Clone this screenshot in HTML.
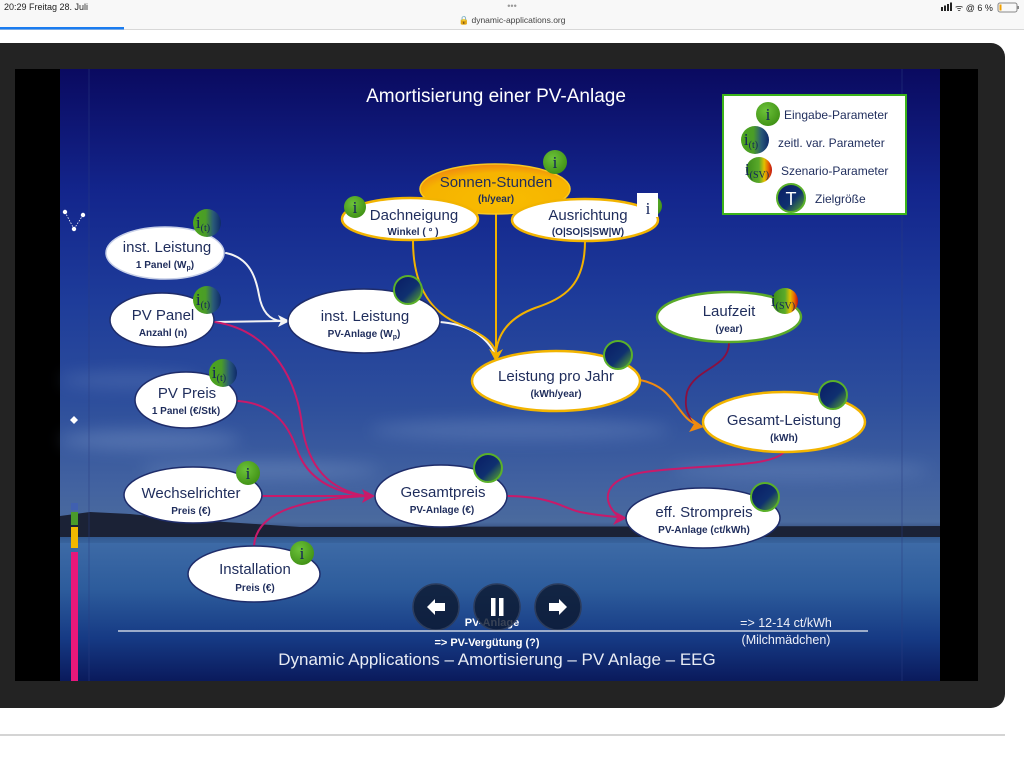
<!DOCTYPE html>
<html><head><meta charset="utf-8">
<style>
html,body{margin:0;padding:0;background:#fff;}
svg{display:block;}
text{font-family:"Liberation Sans",sans-serif;}
.m{font-size:15px;fill:#1f2d5c;text-anchor:middle;}
.s{font-size:10px;font-weight:bold;fill:#1f2d5c;text-anchor:middle;}
.bi{font-family:"Liberation Serif",serif;font-size:17px;fill:#13235a;text-anchor:middle;}
.lg{font-size:12px;fill:#1f2d5c;}
</style></head>
<body>
<svg width="1024" height="767" viewBox="0 0 1024 767" xmlns="http://www.w3.org/2000/svg">
<defs>
  <linearGradient id="sky" x1="0" y1="69" x2="0" y2="681" gradientUnits="userSpaceOnUse">
    <stop offset="0" stop-color="#0a0a60"/>
    <stop offset="0.2" stop-color="#13258c"/>
    <stop offset="0.38" stop-color="#1e3c9a"/>
    <stop offset="0.55" stop-color="#2e4f9c"/>
    <stop offset="0.68" stop-color="#4262a0"/>
    <stop offset="0.74" stop-color="#4a6a9e"/>
    <stop offset="0.76" stop-color="#2a4070"/>
    <stop offset="0.775" stop-color="#3d6aa6"/>
    <stop offset="0.85" stop-color="#2d5c9c"/>
    <stop offset="0.93" stop-color="#163a84"/>
    <stop offset="1" stop-color="#0a1a5c"/>
  </linearGradient>
  <radialGradient id="gI" cx="40%" cy="35%" r="70%">
    <stop offset="0" stop-color="#6cc23a"/>
    <stop offset="1" stop-color="#3f9014"/>
  </radialGradient>
  <linearGradient id="gT" x1="0" y1="0" x2="1" y2="0">
    <stop offset="0" stop-color="#4ca51c"/>
    <stop offset="0.45" stop-color="#4a9c28"/>
    <stop offset="0.72" stop-color="#2a5a78"/>
    <stop offset="1" stop-color="#0e2a6a"/>
  </linearGradient>
  <linearGradient id="gD" x1="0.1" y1="0.1" x2="0.95" y2="0.95">
    <stop offset="0" stop-color="#0a1f66"/>
    <stop offset="0.55" stop-color="#0f3070"/>
    <stop offset="1" stop-color="#5aaa2a"/>
  </linearGradient>
  <linearGradient id="gSV" x1="0" y1="0" x2="1" y2="0">
    <stop offset="0" stop-color="#3a8a1a"/>
    <stop offset="0.5" stop-color="#5aaa2a"/>
    <stop offset="0.7" stop-color="#e0c000"/>
    <stop offset="0.85" stop-color="#e86a00"/>
    <stop offset="1" stop-color="#c01010"/>
  </linearGradient>
  <radialGradient id="gSun" cx="55%" cy="70%" r="75%">
    <stop offset="0" stop-color="#f8bc00"/>
    <stop offset="0.7" stop-color="#f6b300"/>
    <stop offset="0.92" stop-color="#f08a10"/>
    <stop offset="1" stop-color="#e0601a"/>
  </radialGradient>
  <filter id="blur" x="-50%" y="-50%" width="200%" height="200%"><feGaussianBlur stdDeviation="8"/></filter>
</defs>

<!-- page -->
<rect width="1024" height="767" fill="#ffffff"/>
<rect x="0" y="0" width="1024" height="29" fill="#f8f8f8"/>
<text x="4" y="10" font-size="9" fill="#222">20:29  Freitag 28. Juli</text>
<text x="512" y="9" font-size="9" fill="#999" text-anchor="middle">•••</text>
<text x="512" y="23" font-size="8.5" fill="#444" text-anchor="middle">🔒 dynamic-applications.org</text>
<g fill="#222">
  <rect x="941" y="7" width="2" height="4"/><rect x="944" y="5.5" width="2" height="5.5"/><rect x="947" y="4" width="2" height="7"/><rect x="950" y="2.5" width="2" height="8.5"/>
</g>
<text x="955" y="11" font-size="9" fill="#222">ᯤ @ 6 %</text>
<rect x="998" y="3" width="19" height="9" rx="2" fill="none" stroke="#888" stroke-width="1"/>
<rect x="999.5" y="4.5" width="2" height="6" fill="#f0a000"/>
<rect x="1017.5" y="6" width="1.5" height="3" fill="#888"/>
<rect x="0" y="29" width="1024" height="1" fill="#d8d8d8"/>
<rect x="0" y="27" width="124" height="2.5" fill="#1a7cf0"/>

<!-- frame -->
<rect x="-20" y="43" width="1025" height="665" rx="14" fill="#232323"/>
<rect x="0" y="734" width="1005" height="2" fill="#d4d4d4"/>

<!-- black area -->
<rect x="15" y="69" width="963" height="612" fill="#000"/>
<!-- slide -->
<rect x="60" y="69" width="880" height="612" fill="url(#sky)"/>
<g filter="url(#blur)" opacity="0.35">
  <ellipse cx="150" cy="440" rx="90" ry="10" fill="#8aa6d0"/>
  <ellipse cx="260" cy="470" rx="120" ry="8" fill="#8aa6d0"/>
  <ellipse cx="520" cy="430" rx="150" ry="10" fill="#7a98c8"/>
  <ellipse cx="800" cy="470" rx="130" ry="9" fill="#7a98c8"/>
  <ellipse cx="130" cy="380" rx="70" ry="8" fill="#6a88c0"/>
</g>
<!-- horizon -->
<polygon points="60,516 90,512 130,514 180,519 240,523 300,527 940,526 940,537 60,537" fill="#1b2236"/>
<rect x="60" y="537" width="880" height="6" fill="#35609a" opacity="0.6"/>
<line x1="89" y1="69" x2="89" y2="681" stroke="#2a3c80" stroke-width="1" opacity="0.5"/>
<line x1="902" y1="69" x2="902" y2="681" stroke="#2a3c80" stroke-width="1" opacity="0.5"/>

<!-- color bar -->
<rect x="71" y="503" width="7" height="7" fill="#4060b0"/>
<rect x="71" y="512" width="7" height="13" fill="#4a9a2a"/>
<rect x="71" y="527" width="7" height="21" fill="#f2b800"/>
<rect x="71" y="552" width="7" height="129" fill="#e8187a"/>

<!-- decorations -->
<g fill="#fff">
  <circle cx="65" cy="212" r="2.2"/><circle cx="83" cy="215" r="2.2"/><circle cx="74" cy="229" r="2.2"/>
  <polygon points="74,416 78,420 74,424 70,420"/>
</g>
<g stroke="#fff" stroke-width="0.8" stroke-dasharray="1.5,1.5">
  <line x1="65" y1="212" x2="74" y2="229"/><line x1="83" y1="215" x2="74" y2="229"/>
</g>

<!-- title -->
<text x="496" y="102" font-size="19" fill="#ffffff" text-anchor="middle">Amortisierung einer PV-Anlage</text>

<!-- legend -->
<rect x="723" y="95" width="183" height="119" fill="#fff" stroke="#3cb31a" stroke-width="2"/>
<circle cx="768" cy="114" r="12" fill="url(#gI)"/>
<text class="bi" x="768" y="120">i</text>
<text class="lg" x="784" y="119">Eingabe-Parameter</text>
<circle cx="755" cy="140" r="14" fill="url(#gT)"/>
<text class="bi" x="751" y="145">i<tspan font-size="10" dy="3">(t)</tspan></text>
<text class="lg" x="778" y="147">zeitl. var. Parameter</text>
<circle cx="759" cy="170" r="13" fill="url(#gSV)"/>
<text class="bi" x="757" y="175">i<tspan font-size="10" dy="3">(SV)</tspan></text>
<text class="lg" x="781" y="175">Szenario-Parameter</text>
<circle cx="791" cy="198" r="14" fill="url(#gD)" stroke="#5ab02a" stroke-width="2"/>
<text x="791" y="205" font-family="Liberation Serif,serif" font-size="18" fill="#fff" text-anchor="middle">T</text>
<text class="lg" x="815" y="203">Zielgröße</text>

<!-- connectors -->
<g fill="none" stroke-linecap="round">
  <!-- white -->
  <path d="M226,253 C250,258 256,278 259,295 C262,312 270,320 281,321" stroke="#f4f4f4" stroke-width="2"/>
  <path d="M215,322 L281,321" stroke="#f4f4f4" stroke-width="2"/>
  <path d="M440,322 C465,324 484,334 494,352" stroke="#f4f4f4" stroke-width="2"/>
  <!-- yellow -->
  <path d="M413,241 C413,285 430,310 455,322 C480,333 492,340 496,352" stroke="#f2b200" stroke-width="2"/>
  <path d="M496,214 L496,352" stroke="#f2b200" stroke-width="2"/>
  <path d="M585,241 C585,285 565,298 535,308 C508,318 498,335 496,352" stroke="#f2b200" stroke-width="2"/>
  <!-- orange -->
  <path d="M640,380 C665,385 672,400 680,410 C686,418 690,422 696,424" stroke="#f08a10" stroke-width="2"/>
  <!-- maroon -->
  <path d="M729,343 C729,368 695,368 687,392 C683,410 690,420 697,424" stroke="#8a1040" stroke-width="1.8"/>
  <!-- magenta -->
  <path d="M215,322 C268,330 296,375 302,425 C308,468 330,490 366,496" stroke="#c81a6a" stroke-width="2"/>
  <path d="M238,401 C278,404 290,430 298,452 C308,478 332,492 366,496" stroke="#c81a6a" stroke-width="2"/>
  <path d="M262,496 L366,496" stroke="#c81a6a" stroke-width="2"/>
  <path d="M254,546 C256,515 292,500 366,496" stroke="#c81a6a" stroke-width="2"/>
  <path d="M508,496 C555,497 562,508 580,512 C595,515 605,516 618,517" stroke="#c81a6a" stroke-width="2"/>
  <path d="M784,452 C770,468 705,464 645,472 C604,478 600,500 618,516" stroke="#c81a6a" stroke-width="2"/>
</g>
<!-- arrowheads -->
<polygon points="290,321 278,315 281,321 278,327" fill="#f4f4f4"/>
<polygon points="496,362 489,349 496,353 503,349" fill="#f2b200"/>
<polygon points="704,427 690,417 694,424 689,432" fill="#f08a10"/>
<polygon points="375,496 362,489 365,496 362,503" fill="#c81a6a"/>
<polygon points="627,518 614,511 617,518 613,525" fill="#c81a6a"/>

<!-- nodes -->
<!-- Sonnen-Stunden -->
<ellipse cx="495" cy="189" rx="75" ry="25" fill="url(#gSun)" stroke="#f8c820" stroke-width="1.5"/>
<text class="m" x="496" y="187">Sonnen-Stunden</text>
<text class="s" x="496" y="202">(h/year)</text>
<circle cx="555" cy="162" r="12" fill="url(#gI)"/>
<text class="bi" x="555" y="168">i</text>

<!-- Dachneigung -->
<ellipse cx="410" cy="219" rx="68" ry="21" fill="#fff" stroke="#f2b400" stroke-width="2.5"/>
<text class="m" x="414" y="220">Dachneigung</text>
<text class="s" x="413" y="235">Winkel ( ° )</text>
<circle cx="355" cy="207" r="11" fill="url(#gI)"/>
<text class="bi" x="355" y="213">i</text>

<!-- Ausrichtung -->
<ellipse cx="585" cy="220" rx="73" ry="21" fill="#fff" stroke="#f2b400" stroke-width="2.5"/>
<text class="m" x="588" y="220">Ausrichtung</text>
<text class="s" x="588" y="235">(O|SO|S|SW|W)</text>
<circle cx="652" cy="206" r="10" fill="url(#gI)"/>
<rect x="637" y="193" width="21" height="24" fill="#fff"/>
<text class="bi" x="648" y="214">i</text>

<!-- inst. Leistung 1 Panel -->
<ellipse cx="165" cy="253" rx="59" ry="26" fill="#fff" stroke="#c8d0e8" stroke-width="1.5"/>
<text class="m" x="167" y="252">inst. Leistung</text>
<text class="s" x="165" y="268">1 Panel (W<tspan font-size="7" dy="2">p</tspan><tspan dy="-2">)</tspan></text>
<circle cx="207" cy="223" r="14" fill="url(#gT)"/>
<text class="bi" x="203" y="228">i<tspan font-size="10" dy="3">(t)</tspan></text>

<!-- PV Panel -->
<ellipse cx="162" cy="320" rx="52" ry="27" fill="#fff" stroke="#1e2c6a" stroke-width="1.5"/>
<text class="m" x="163" y="320">PV Panel</text>
<text class="s" x="163" y="336">Anzahl (n)</text>
<circle cx="207" cy="300" r="14" fill="url(#gT)"/>
<text class="bi" x="203" y="305">i<tspan font-size="10" dy="3">(t)</tspan></text>

<!-- inst. Leistung PV-Anlage -->
<ellipse cx="364" cy="321" rx="76" ry="32" fill="#fff" stroke="#1e2c6a" stroke-width="1.5"/>
<text class="m" x="365" y="321">inst. Leistung</text>
<text class="s" x="364" y="337">PV-Anlage (W<tspan font-size="7" dy="2">p</tspan><tspan dy="-2">)</tspan></text>
<circle cx="408" cy="290" r="14" fill="url(#gD)" stroke="#5ab02a" stroke-width="2"/>

<!-- PV Preis -->
<ellipse cx="186" cy="400" rx="51" ry="28" fill="#fff" stroke="#1e2c6a" stroke-width="1.5"/>
<text class="m" x="187" y="398">PV Preis</text>
<text class="s" x="186" y="414">1 Panel (€/Stk)</text>
<circle cx="223" cy="373" r="14" fill="url(#gT)"/>
<text class="bi" x="219" y="378">i<tspan font-size="10" dy="3">(t)</tspan></text>

<!-- Leistung pro Jahr -->
<ellipse cx="556" cy="381" rx="84" ry="30" fill="#fff" stroke="#f2b400" stroke-width="2.5"/>
<text class="m" x="556" y="381">Leistung pro Jahr</text>
<text class="s" x="556" y="397">(kWh/year)</text>
<circle cx="618" cy="355" r="14" fill="url(#gD)" stroke="#5ab02a" stroke-width="2"/>

<!-- Laufzeit -->
<ellipse cx="729" cy="317" rx="72" ry="25" fill="#fff" stroke="#5aaa2a" stroke-width="2.5"/>
<text class="m" x="729" y="316">Laufzeit</text>
<text class="s" x="729" y="332">(year)</text>
<circle cx="785" cy="301" r="13" fill="url(#gSV)"/>
<text class="bi" x="783" y="306">i<tspan font-size="10" dy="3">(SV)</tspan></text>

<!-- Gesamt-Leistung -->
<ellipse cx="784" cy="422" rx="81" ry="30" fill="#fff" stroke="#f2b400" stroke-width="2.5"/>
<text class="m" x="784" y="425">Gesamt-Leistung</text>
<text class="s" x="784" y="441">(kWh)</text>
<circle cx="833" cy="395" r="14" fill="url(#gD)" stroke="#5ab02a" stroke-width="2"/>

<!-- Wechselrichter -->
<ellipse cx="193" cy="495" rx="69" ry="28" fill="#fff" stroke="#1e2c6a" stroke-width="1.5"/>
<text class="m" x="191" y="498">Wechselrichter</text>
<text class="s" x="191" y="514">Preis (€)</text>
<circle cx="248" cy="473" r="12" fill="url(#gI)"/>
<text class="bi" x="248" y="479">i</text>

<!-- Gesamtpreis -->
<ellipse cx="441" cy="496" rx="66" ry="31" fill="#fff" stroke="#1e2c6a" stroke-width="1.5"/>
<text class="m" x="443" y="497">Gesamtpreis</text>
<text class="s" x="442" y="513">PV-Anlage (€)</text>
<circle cx="488" cy="468" r="14" fill="url(#gD)" stroke="#5ab02a" stroke-width="2"/>

<!-- Installation -->
<ellipse cx="254" cy="574" rx="66" ry="28" fill="#fff" stroke="#1e2c6a" stroke-width="1.5"/>
<text class="m" x="255" y="574">Installation</text>
<text class="s" x="255" y="591">Preis (€)</text>
<circle cx="302" cy="553" r="12" fill="url(#gI)"/>
<text class="bi" x="302" y="559">i</text>

<!-- eff. Strompreis -->
<ellipse cx="703" cy="518" rx="77" ry="30" fill="#fff" stroke="#1e2c6a" stroke-width="1.5"/>
<text class="m" x="704" y="517">eff. Strompreis</text>
<text class="s" x="704" y="533">PV-Anlage (ct/kWh)</text>
<circle cx="765" cy="497" r="14" fill="url(#gD)" stroke="#5ab02a" stroke-width="2"/>

<!-- bottom -->
<text x="492" y="626" font-size="11" font-weight="bold" fill="#fff" text-anchor="middle">PV-Anlage</text>
<g fill="#0c1830" fill-opacity="0.82" stroke="#2c3c5c" stroke-width="1.5">
  <circle cx="436" cy="607" r="23"/>
  <circle cx="497" cy="607" r="23"/>
  <circle cx="558" cy="607" r="23"/>
</g>
<polygon points="427,607 435,599 435,603 445,603 445,611 435,611 435,615" fill="#fff"/>
<rect x="491" y="598" width="4.5" height="18" fill="#fff"/>
<rect x="499" y="598" width="4.5" height="18" fill="#fff"/>
<polygon points="567,607 559,599 559,603 549,603 549,611 559,611 559,615" fill="#fff"/>
<line x1="118" y1="631" x2="868" y2="631" stroke="#c8d0e0" stroke-width="1.5"/>
<text x="487" y="646" font-size="11" font-weight="bold" fill="#fff" text-anchor="middle">=&gt; PV-Vergütung (?)</text>
<text x="497" y="665" font-size="17" fill="#e8ecf4" text-anchor="middle">Dynamic Applications – Amortisierung – PV Anlage – EEG</text>
<text x="786" y="627" font-size="12.5" fill="#eef0f8" text-anchor="middle">=&gt; 12-14 ct/kWh</text>
<text x="786" y="644" font-size="12.5" fill="#eef0f8" text-anchor="middle">(Milchmädchen)</text>
</svg>
</body></html>
